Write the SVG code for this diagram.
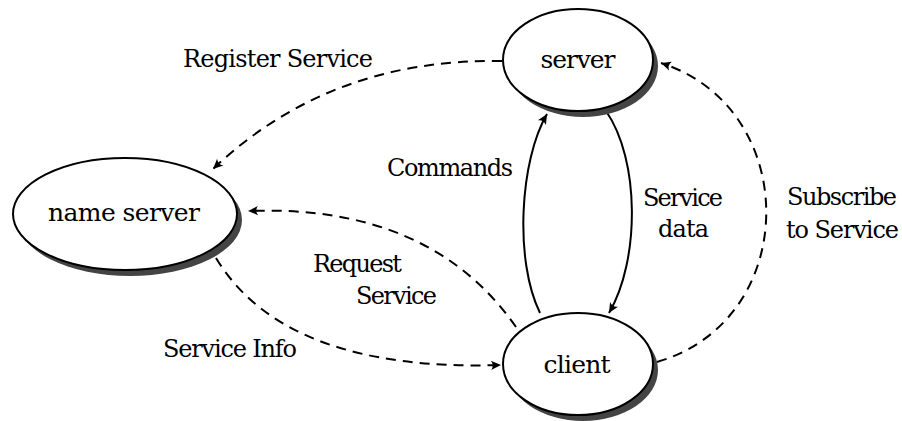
<svg xmlns="http://www.w3.org/2000/svg" width="902" height="421" viewBox="0 0 902 421">
  <defs>
    <marker id="arrow" markerUnits="userSpaceOnUse" markerWidth="14" markerHeight="12" viewBox="-12 -6 14 12" refX="0" refY="0" orient="auto">
      <path d="M0,0 L-10,-4.6 Q-6.5,0 -10,4.6 Z" fill="#000"/>
    </marker>
  </defs>
  <style>
    text { font-family: "DejaVu Serif", serif; fill: #000; }
    .shadow { fill: #444; }
    .node { fill: #fff; stroke: #000; stroke-width: 2; }
    .ntext { font-size: 25px; text-anchor: middle; }
    .ltext { font-size: 24px; }
    .edge { fill: none; stroke: #000; stroke-width: 2; marker-end: url(#arrow); }
    .dashed { stroke-dasharray: 10 7; }
  </style>
  <rect width="902" height="421" fill="#fff"/>

  <!-- connectors -->
  <g id="connectors">
    <path class="edge dashed" d="M502,61 Q330,58 213,169"/>
    <path class="edge dashed" d="M516,327 Q430,204 248,211"/>
    <path class="edge dashed" d="M216,258 Q285,372 501,365"/>
    <path class="edge dashed" d="M657,362 C802,320 802,108 661,63"/>
    <path class="edge" d="M540,313 C514,260 520,160 547,114"/>
    <path class="edge" d="M606,111 C640,160 640,260 609,313"/>
  </g>

  <!-- edge labels -->
  <g id="labels">
    <text class="ltext" x="183" y="67" textLength="190">Register Service</text>
    <text class="ltext" x="387" y="176" textLength="126">Commands</text>
    <text class="ltext" x="643" y="206" textLength="80">Service</text>
    <text class="ltext" x="658" y="237" textLength="51">data</text>
    <text class="ltext" x="787" y="205" textLength="110">Subscribe</text>
    <text class="ltext" x="786" y="238" textLength="113">to Service</text>
    <text class="ltext" x="313" y="272" textLength="89">Request</text>
    <text class="ltext" x="356" y="304" textLength="81">Service</text>
    <text class="ltext" x="163" y="357" textLength="134">Service Info</text>
  </g>

  <!-- nodes -->
  <g id="server">
    <ellipse class="shadow" cx="583" cy="66" rx="75" ry="51"/>
    <ellipse class="node" cx="578" cy="60" rx="75" ry="51"/>
    <text class="ntext" x="578" y="68" textLength="75">server</text>
  </g>
  <g id="name-server">
    <ellipse class="shadow" cx="130" cy="220" rx="112" ry="56"/>
    <ellipse class="node" cx="125" cy="214" rx="112" ry="56"/>
    <text class="ntext" x="124" y="221" textLength="152">name server</text>
  </g>
  <g id="client">
    <ellipse class="shadow" cx="583" cy="370" rx="75" ry="51"/>
    <ellipse class="node" cx="578" cy="364" rx="75" ry="51"/>
    <text class="ntext" x="577" y="373" textLength="67">client</text>
  </g>
</svg>
